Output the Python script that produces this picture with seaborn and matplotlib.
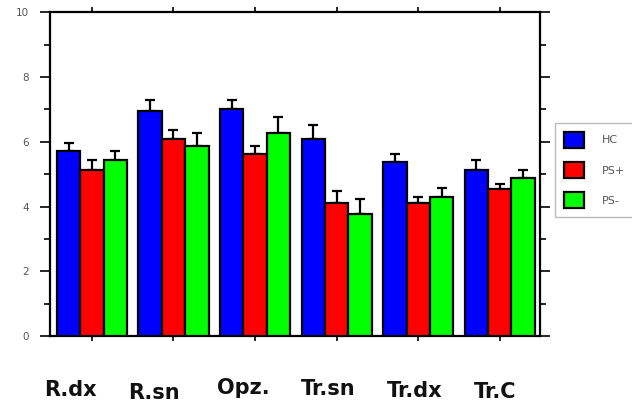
import numpy as np
import pandas as pd
import matplotlib
matplotlib.use("Agg")
import matplotlib.pyplot as plt
from matplotlib.ticker import MultipleLocator
import seaborn as sns

# Mean values and upper error per region and group
regions = ["R.dx", "R.sn", "Opz.", "Tr.sn", "Tr.dx", "Tr.C"]
groups = ["HC", "PS+", "PS-"]
hc = [5.70, 6.95, 7.02, 6.10, 5.38, 5.12]
hc_err = [0.27, 0.33, 0.27, 0.42, 0.25, 0.33]
ps_plus = [5.12, 6.10, 5.62, 4.12, 4.12, 4.53]
ps_plus_err = [0.33, 0.27, 0.26, 0.36, 0.19, 0.18]
ps_minus = [5.45, 5.86, 6.27, 3.78, 4.30, 4.87]
ps_minus_err = [0.26, 0.41, 0.50, 0.44, 0.26, 0.25]
y_ticks = [0, 2, 4, 6, 8, 10]

colors = ["#0000ff", "#ff0000", "#00ff00"]

df = pd.DataFrame({
    "region": regions * 3,
    "group": [g for g in groups for _ in regions],
    "value": hc + ps_plus + ps_minus,
})
errors = [hc_err, ps_plus_err, ps_minus_err]

sns.set_style("ticks")
plt.rcParams["font.family"] = ["DejaVu Sans"]

fig = plt.figure(figsize=(6.32, 4.05), dpi=100)
ax = fig.add_axes([0.079, 0.170, 0.775, 0.800])

sns.barplot(data=df, x="region", y="value", hue="group", order=regions,
            hue_order=groups, palette=colors, width=0.86, errorbar=None,
            edgecolor="black", linewidth=1.6, saturation=1, ax=ax, zorder=3)

# upper-only error bars at each bar's centre
for container, err in zip(ax.containers, errors):
    xs = [p.get_x() + p.get_width() / 2 for p in container.patches]
    ys = [p.get_height() for p in container.patches]
    ax.errorbar(xs, ys, yerr=[np.zeros(len(err)), err], fmt="none",
                ecolor="black", elinewidth=1.6, capsize=3.5, capthick=1.6,
                zorder=2)

ax.set_xlim(-0.515, 5.49)
ax.set_ylim(0, 10)
ax.set_yticks(y_ticks)
ax.yaxis.set_minor_locator(MultipleLocator(1))
ax.set_xlabel("")
ax.set_ylabel("")
ax.set_xticks(range(len(regions)))
ax.set_xticklabels([])

for s in ax.spines.values():
    s.set_linewidth(1.6)
    s.set_color("black")

ax.tick_params(axis="y", which="major", direction="out", length=7, width=1.4,
               left=True, right=True, labelsize=7.5, labelcolor="#555555",
               pad=8)
ax.tick_params(axis="y", which="minor", direction="out", length=4.5,
               width=1.4, left=True, right=True)
ax.tick_params(axis="x", which="major", direction="out", length=3.5,
               width=1.4, top=True, bottom=True)

# hand-placed region names below the axis
label_shift = [-0.26, -0.245, -0.15, -0.10, -0.04, -0.06]
label_y = [-0.166, -0.174, -0.160, -0.164, -0.170, -0.172]
for i, (name, dx, yy) in enumerate(zip(regions, label_shift, label_y)):
    ax.text(i + dx, yy, name, transform=ax.get_xaxis_transform(),
            ha="center", va="center", fontsize=15, fontweight="bold",
            color="#111111")

handles, labels = ax.get_legend_handles_labels()
ax.legend(handles, labels, loc="upper left", bbox_to_anchor=(0.878, 0.696),
          bbox_transform=fig.transFigure, borderaxespad=0, fancybox=False,
          edgecolor="#bbbbbb", fontsize=8, labelcolor="#555555",
          handlelength=1.8, handleheight=1.8, labelspacing=1.3,
          handletextpad=1.6, borderpad=0.8, framealpha=1)

fig.savefig("out.png", dpi=100)
